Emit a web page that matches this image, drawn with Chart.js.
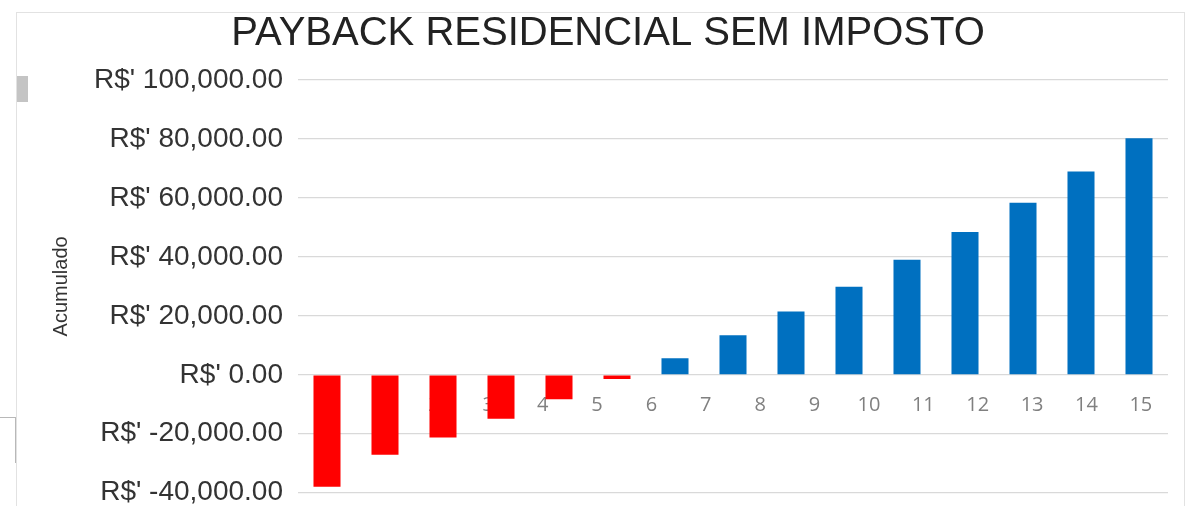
<!DOCTYPE html>
<html>
<head>
<meta charset="utf-8">
<script src="https://cdn.jsdelivr.net/npm/chart.js@4/dist/chart.umd.min.js"></script>
<style>
	html, body { margin: 0; padding: 0; background: #fff; }
	#wrap { position: relative; width: 1194px; height: 506px; overflow: hidden; }
	#frame { position: absolute; left: 16px; top: 12px; width: 1167px; height: 520px; border: 1px solid #e2e2e2; }
	#tab { position: absolute; left: 17px; top: 76px; width: 11px; height: 26px; background: #c4c4c4; }
	#bracket { position: absolute; left: -2px; top: 417px; width: 17px; height: 45px; border-top: 1px solid #b8b8b8; border-right: 1px solid #b8b8b8; }
	canvas { position: absolute; left: 0; top: 0; }
</style>
</head>
<body>
<div id="wrap">
	<div id="frame"></div>
	<div id="tab"></div>
	<div id="bracket"></div>
	<canvas id="payback-chart" width="1194" height="506"></canvas>
</div>
<script>
// anos do payback
var anos = ['1', '2', '3', '4', '5', '6', '7', '8', '9', '10', '11', '12', '13', '14', '15']
// saldo acumulado (R$)
var acumulado = [-38000, -27100, -21300, -14900, -8300, -1400, 5600, 13400, 21500, 29900, 39000, 48400, 58400, 69000, 80200]
// rotulos do eixo de baixo (a grade de rotulos tem uma posicao a mais que as barras)
var rotulosEixo = [''].concat(anos)
var yMin = -40000
var yMax = 100000
var yPasso = 20000

function formatReal(v) {
	return "R$' " + v.toLocaleString('en-US', { minimumFractionDigits: 2, maximumFractionDigits: 2 })
}

var ctx = document.getElementById('payback-chart').getContext('2d')
var myChart = new Chart(ctx, {
	type: 'bar',
	data: {
		labels: anos,
		datasets: [{
			label: 'Acumulado',
			data: acumulado,
			backgroundColor: acumulado.map(function (v) { return v < 0 ? '#ff0000' : '#0070c0' }),
			borderWidth: 0,
			categoryPercentage: 1,
			barPercentage: 0.466
		}]
	},
	options: {
		responsive: false,
		animation: false,
		layout: { padding: { top: 10, left: 48, right: 26, bottom: 0 } },
		plugins: {
			legend: { display: false },
			tooltip: { enabled: false },
			title: {
				display: true,
				text: 'PAYBACK RESIDENCIAL SEM IMPOSTO',
				color: '#222',
				font: { family: 'Liberation Sans', size: 40, weight: 'normal', lineHeight: 1.2 },
				padding: { top: 0, bottom: 22 }
			}
		},
		scales: {
			x: {
				display: false
			},
			xRotulos: {
				type: 'category',
				axis: 'x',
				labels: rotulosEixo,
				offset: true,
				position: { y: 0 },
				grid: { display: false },
				border: { display: false },
				ticks: {
					autoSkip: false,
					maxRotation: 0,
					padding: 11,
					color: '#808080',
					font: { family: 'Open Sans', size: 20 }
				}
			},
			y: {
				min: yMin,
				max: yMax,
				afterFit: function (scale) { scale.width = 250 },
				grid: { color: '#d9d9d9', lineWidth: 1.3, drawTicks: true, tickLength: 15, tickColor: 'rgba(0,0,0,0)' },
				border: { display: false },
				ticks: {
					stepSize: yPasso,
					padding: 0,
					color: '#333',
					font: { family: 'Liberation Sans', size: 28, lineHeight: 0.95 },
					callback: function (v) { return formatReal(v) }
				},
				title: {
					display: true,
					text: 'Acumulado',
					color: '#333',
					font: { family: 'Liberation Sans', size: 20 },
					padding: { top: 1, bottom: 0 }
				}
			}
		}
	}
})
</script>
</body>
</html>
